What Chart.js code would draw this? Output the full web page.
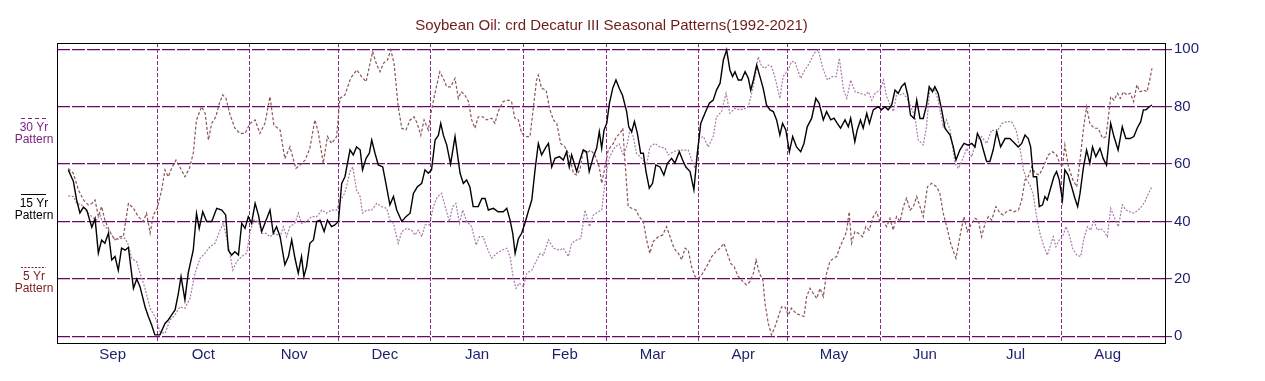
<!DOCTYPE html>
<html>
<head>
<meta charset="utf-8">
<title>Soybean Oil Seasonal Patterns</title>
<script src="https://cdn.jsdelivr.net/npm/chart.js"></script>
<style>
  html, body { margin: 0; padding: 0; background: #fff; }
  #wrap { width: 1265px; height: 381px; }
</style>
</head>
<body>
<div id="wrap"><canvas id="chart" width="1265" height="381"></canvas></div>
<script>
// x values are days since Sep 1 of the seasonal year
const monthNames = ["Sep", "Oct", "Nov", "Dec", "Jan", "Feb", "Mar", "Apr", "May", "Jun", "Jul", "Aug"];
const monthStarts = [30, 61, 91, 122, 153, 181, 212, 242, 273, 303, 334];
const monthMids = [15, 45.5, 76, 106.5, 137.5, 167, 196.5, 227, 257.5, 288, 318.5, 349.5];
const yTicks = [0, 20, 40, 60, 80, 100];

const pattern15 = [[0.1,58],[1.8,54],[2.9,47.5],[4.0,43],[5.2,45],[6.3,44],[8.0,38],[9.1,41],[10.2,29],[11.3,33.5],[12.4,32.4],[13.6,36],[14.7,26.6],[15.8,27.8],[16.9,23],[18.0,30.7],[19.2,30],[20.3,31],[22.0,16.7],[23.1,20],[24.2,17.3],[25.9,10.3],[27.0,6.9],[28.1,4],[29.2,0.5],[30.9,0.5],[32.6,4.5],[33.7,5.7],[34.8,7.4],[36.0,9.2],[37.1,15],[38.0,20.8],[39.3,12.7],[40.4,22],[42.1,30],[43.2,42.8],[44.1,37.6],[45.3,43.4],[46.6,40],[48.3,40],[50.0,44.6],[51.7,44],[53.0,42.3],[53.9,30],[55.0,28.3],[56.1,29.5],[57.3,28.3],[58.4,39.4],[59.5,37.6],[60.6,41.7],[61.7,39.4],[62.9,46.3],[64.0,42.3],[65.1,36.5],[66.2,39.4],[67.9,44],[69.0,35.9],[70.1,38.2],[71.3,34.7],[72.9,24.9],[74.1,27.8],[75.2,33.6],[76.3,27.2],[77.4,22],[78.5,27.8],[79.3,20.8],[80.2,24.3],[81.3,32.4],[82.5,33.6],[83.6,40],[84.7,40.5],[86.1,36.5],[87.2,40.5],[88.6,38.2],[89.7,38.8],[90.9,40],[92.0,53.3],[93.1,55.6],[94.8,65],[95.9,63.2],[97.0,66],[98.2,65],[99.0,58],[100.2,62],[101.3,63.8],[102.1,68.4],[103.2,63.8],[104.3,59.7],[105.8,59],[107.1,52],[108.2,45.8],[109.4,48.7],[110.5,44],[112.2,40],[113.6,41.7],[115.0,42.9],[116.1,49.8],[117.4,52],[118.9,53.3],[120.0,58],[121.1,56.8],[122.2,58],[123.4,68.4],[124.5,70],[125.3,74.2],[126.2,70],[127.3,66.7],[128.6,60],[130.1,69.6],[131.8,56.8],[132.9,53.3],[134.0,54.5],[135.1,52],[136.2,45.2],[137.9,45.2],[139.1,48],[140.2,48],[141.3,44],[143.0,44.6],[144.6,43.4],[146.3,43.4],[147.5,44.6],[148.6,40.5],[149.5,35.9],[150.3,28.9],[151.4,34],[152.5,35.9],[153.6,39.4],[154.7,43.4],[155.9,47.5],[157.0,58],[158.1,67.2],[159.2,63.2],[160.7,66],[161.5,67.2],[162.6,59],[163.7,62],[165.2,62.6],[166.5,61.4],[167.6,64.3],[168.5,59],[169.3,63.2],[171.0,57.4],[172.1,61.4],[173.2,65],[174.3,64.3],[175.2,57.4],[176.6,62.6],[177.7,65.5],[178.6,71.3],[179.4,65.5],[180.2,71.9],[181.1,74.2],[182.0,81.2],[183.1,86.4],[184.2,89.3],[185.3,86.4],[186.4,84],[187.8,78.3],[188.5,73],[189.5,71.3],[190.4,74.8],[191.4,70.7],[192.5,63.8],[193.4,63.8],[194.3,57.4],[195.4,51.6],[196.5,53.3],[197.6,59.7],[199.0,59],[200.3,56.2],[201.5,60.3],[202.9,62],[204.0,60.3],[205.5,64.3],[206.6,61.4],[207.7,59],[209.1,57.4],[210.4,51],[211.5,63.2],[212.7,74.2],[214.1,77.7],[215.6,81.2],[216.9,82.3],[218.0,85.8],[219.2,88.2],[220.3,96.3],[221.4,99.8],[222.5,92.8],[223.4,90.5],[224.2,92.2],[225.3,89.3],[226.4,89.3],[227.6,92.2],[228.7,89.9],[229.5,85.8],[230.4,89.3],[231.5,94.5],[232.6,90.5],[233.7,86.4],[234.8,80.6],[236.0,78.9],[237.1,78.3],[238.2,75.4],[239.3,70.1],[240.2,74.2],[241.3,71.9],[242.5,64.3],[243.6,69.6],[244.9,66],[246.3,64.3],[247.4,67.2],[248.5,73],[250.0,76],[251.4,82.9],[252.5,81.2],[253.9,75.4],[255.0,78.3],[256.4,75.4],[257.5,76],[258.6,74.2],[259.7,72.5],[261.2,75.4],[262.3,73],[263.1,76],[264.5,67.8],[265.3,71.9],[266.4,75.4],[267.3,72.5],[268.5,77.7],[269.4,74.2],[270.7,78.9],[272.4,80],[273.5,78.9],[274.6,80],[275.7,78.9],[276.9,80.6],[278.0,85.8],[279.1,84.7],[280.2,87],[281.3,88.2],[282.3,84],[283.2,77.1],[284.4,75.9],[285.3,82.3],[286.4,75.9],[287.5,75.9],[288.6,80.6],[289.5,87],[290.6,85.2],[291.4,87],[292.5,84.7],[293.7,78.9],[294.8,72.5],[296.5,70.1],[297.6,66],[298.5,61.4],[299.8,64.9],[301.2,67.2],[302.6,66.6],[303.8,67.2],[304.9,66],[305.7,70.7],[306.8,68.4],[307.7,64.9],[308.8,60.9],[309.9,60.9],[311.0,64.9],[312.2,71.3],[313.5,66],[315.0,68.9],[316.6,68.9],[318.3,67.2],[319.4,66],[320.6,67.2],[321.7,70.1],[322.8,68.9],[323.6,66],[324.5,55.6],[325.6,55.6],[326.5,45.2],[327.6,45.8],[328.4,48.7],[329.2,47.5],[330.3,51.6],[331.4,55.6],[332.3,57.4],[333.2,54.5],[334.3,47.5],[335.1,58],[336.2,56.2],[337.4,52],[338.5,48],[339.4,45.2],[340.2,49.8],[341.3,58.5],[342.4,64.9],[343.5,60.3],[344.4,66],[345.5,62.6],[346.9,65.5],[348.0,61.9],[349.1,59.7],[350.5,74.2],[351.6,69.6],[353.0,64.9],[354.4,73],[355.6,68.9],[357.0,68.9],[358.3,69.6],[359.4,72.5],[360.6,74.8],[361.5,78.9],[362.4,78.9],[363.5,80],[364.4,80.6]];

const pattern30 = [[0.1,48.9],[1.8,48.7],[2.9,46.3],[4.6,45.8],[6.3,43.4],[8.0,41.7],[9.6,40.5],[10.8,42.3],[11.9,38.8],[13.6,37],[14.7,35.3],[15.8,33.6],[17.5,34.1],[19.2,34.1],[20.3,31.8],[21.4,27.2],[23.1,26],[24.2,22],[25.9,16.7],[27.6,9.8],[29.2,6.9],[30.9,1.6],[32.6,1],[34.3,5.7],[36.0,7.4],[37.6,10.3],[39.3,9.8],[41.0,13.2],[42.7,22],[44.4,27.2],[46.1,29],[47.7,31.2],[49.4,32.4],[51.1,37],[52.2,39.4],[53.9,31.8],[55.4,23.1],[56.7,26],[58.4,27.8],[60.1,29],[61.2,36.5],[62.5,40.5],[64.0,40],[65.1,35.9],[66.6,35.9],[67.9,34.7],[69.6,35.9],[71.3,34.7],[72.4,38.2],[73.5,34.7],[74.6,38.2],[76.3,39.4],[77.4,42.9],[78.5,39.4],[80.2,40],[81.9,41.7],[83.6,41.7],[85.3,44],[86.9,42.9],[88.6,44],[90.3,44],[91.4,47],[93.1,50],[94.8,57.4],[95.7,59],[97.0,51],[98.2,48.7],[99.0,42.9],[100.4,44],[102.1,44],[103.8,46.3],[105.4,45.2],[107.1,44.6],[108.2,40.5],[109.4,39.4],[111.0,32.4],[112.2,36.5],[113.8,37.6],[115.5,37],[116.6,35.3],[117.8,37],[118.9,34.7],[120.0,38.8],[121.5,38.8],[122.8,45.2],[124.2,48.7],[125.6,49.8],[127.1,44],[128.2,40],[129.3,45.2],[130.4,46.3],[131.6,39.4],[132.7,44],[134.0,40],[135.7,38.2],[137.2,31.8],[138.3,34.7],[139.6,34.7],[140.7,31.2],[142.4,27.2],[144.1,28.9],[145.8,30],[147.5,30.7],[148.6,27.8],[149.7,20.2],[150.6,16.7],[151.7,18.5],[153.1,17.3],[154.2,22],[155.9,23.1],[157.0,25.4],[158.7,28.9],[159.8,28.3],[161.5,33.6],[163.2,30.7],[165.2,30],[166.5,30.7],[168.2,27.8],[169.3,32.4],[171.0,33.6],[172.4,34.1],[173.8,44],[175.3,38.2],[176.6,42.3],[178.3,43.4],[179.4,44],[180.5,53.3],[181.6,61.4],[182.8,64],[183.9,66],[185.3,67],[186.7,63],[188.0,67],[188.9,72],[190.0,69.6],[191.1,63.8],[193.4,61.4],[194.5,59.7],[195.6,66],[197.3,67.2],[199.0,66],[200.7,65.5],[201.8,63.2],[203.5,64.3],[205.2,64.9],[206.8,64.9],[208.5,64.9],[209.7,61.4],[210.8,58.5],[212.2,69],[213.6,69.6],[215.2,66],[216.9,69.6],[218.0,76.5],[219.7,78.3],[221.2,84.7],[222.5,77.7],[224.2,79.4],[225.9,78.9],[227.6,79.4],[228.7,80],[229.8,84.7],[231.0,90.5],[232.0,97.4],[233.2,94],[234.3,93.4],[235.4,94.5],[236.5,94],[237.6,90.5],[239.3,82.9],[240.4,90.5],[242.1,92.8],[243.2,95.7],[244.3,95.7],[246.3,89.9],[247.7,92.8],[249.2,95.1],[250.8,98.6],[252.2,99.8],[253.7,93.4],[255.3,89.3],[256.8,90.5],[258.2,90.5],[259.3,96.9],[260.7,85.8],[261.8,82.9],[263.1,89.3],[264.6,85.2],[266.3,84.7],[268.0,84.1],[269.1,85.2],[270.2,82.3],[271.3,84.7],[273.0,85.8],[274.1,89.3],[275.2,83.5],[276.4,80.6],[277.5,78.3],[278.6,84.7],[279.7,84.1],[280.8,84.7],[282.0,83],[283.1,80.6],[284.7,76.5],[285.8,68.4],[287.5,66.7],[288.6,73],[289.7,86.4],[291.4,85.8],[292.5,82.3],[294.2,73],[295.3,75.4],[296.5,71.9],[298.2,60.3],[299.3,58.5],[300.4,60.9],[302.1,65.5],[303.8,62.6],[305.4,68.4],[307.1,69.6],[308.8,67.2],[310.5,71.9],[312.2,71.3],[314.0,74.2],[315.5,74.8],[317.2,74.8],[318.7,71.9],[320.1,64.9],[321.2,58],[322.3,54.5],[323.4,52.7],[324.5,49.2],[325.6,41.7],[326.7,35.9],[328.1,31.2],[329.2,28.3],[330.3,31.8],[331.2,34.7],[332.1,31.2],[333.2,33.6],[334.3,34.7],[335.5,38.2],[336.6,35.3],[337.7,30.7],[339.1,28.3],[340.4,27.8],[341.5,34.1],[342.7,38.2],[343.8,37],[344.9,40.5],[346.0,37],[347.1,37.6],[348.3,36.5],[349.4,34.7],[350.5,44.6],[351.6,41.7],[353.1,38.2],[354.4,45.8],[355.6,44],[357.0,43.4],[358.3,42.9],[359.8,44],[360.9,45.2],[362.0,46.9],[363.2,49.8],[364.4,52.1]];

const pattern5 = [[0.1,58.5],[1.8,56.8],[3.5,51],[5.2,47.5],[6.8,45.8],[8.0,46.3],[9.1,47.5],[10.2,41.7],[11.3,45.2],[12.4,40.5],[13.6,37.6],[14.7,35.3],[15.8,33.6],[17.5,34.7],[18.6,34.7],[20.3,46.3],[22.0,44.6],[23.6,41.7],[25.3,40],[26.4,42.9],[27.6,35.9],[28.7,42.3],[30.0,44.6],[31.5,51],[32.6,58],[33.7,55.6],[34.8,58.5],[36.3,61.4],[37.6,59],[39.3,55.6],[40.8,58.5],[42.1,63.8],[43.2,75.4],[44.9,80],[46.1,77.7],[47.2,68.4],[48.3,74.2],[49.7,76.5],[50.9,81.2],[52.0,84.1],[53.1,82.9],[54.5,77.1],[56.1,72.5],[57.8,70.7],[59.5,70.7],[61.2,74.2],[62.9,75.4],[64.5,70.7],[66.2,74.2],[67.9,83.5],[69.2,73.6],[71.3,71.9],[72.9,61.9],[74.6,66],[76.6,58.5],[78.0,59.7],[79.7,61.4],[81.3,65.5],[83.0,75.4],[84.1,71.3],[85.8,60.3],[87.2,69.6],[88.6,67.2],[90.3,69.6],[91.4,82.9],[93.1,84.1],[94.8,89.3],[95.4,90.5],[97.1,92.8],[98.7,90.5],[100.2,88.7],[101.3,94],[102.4,99.2],[103.8,94.5],[104.9,92.2],[106.0,95.1],[107.4,96.3],[108.5,99.8],[109.6,95.1],[111.0,80],[112.2,72.5],[113.6,71.9],[115.0,75.4],[116.3,76.5],[117.4,74.2],[118.6,70],[119.7,75.4],[121.1,71.9],[122.2,78.9],[123.7,86.4],[125.0,92.2],[126.4,89.3],[127.3,86.9],[128.6,86.9],[130.1,89.9],[131.2,82.9],[132.2,85.2],[133.4,84.1],[134.6,81.8],[135.7,75.4],[136.8,72.5],[137.9,76.5],[139.4,76.5],[140.7,75.4],[142.4,76],[143.5,74.2],[144.6,78.3],[146.3,81.8],[148.0,82.3],[149.1,81.8],[150.2,76],[151.4,75.4],[152.5,70.7],[154.2,69.6],[155.3,69.6],[156.4,79.4],[157.5,89.3],[158.1,91],[159.2,86.4],[160.7,85.8],[162.0,78.9],[163.2,75.4],[164.3,74.2],[165.6,67.2],[167.0,66],[168.5,63.2],[169.9,56.8],[171.0,56.2],[172.1,58],[173.2,64.9],[174.3,63.8],[175.7,64.9],[177.1,63.2],[178.6,59],[179.4,53.3],[180.5,59],[181.6,64.9],[183.3,67.2],[184.4,69.6],[185.6,70.7],[186.5,72.5],[187.2,61.4],[188.3,45.2],[189.5,44.6],[190.9,44],[192.0,41.7],[193.4,40],[194.5,33.6],[195.6,28.9],[196.7,33],[198.4,34.7],[199.9,35.3],[201.2,38.2],[202.4,34.7],[203.7,30.7],[205.2,28.9],[206.3,26.6],[207.4,30.7],[208.5,30],[209.6,24.3],[210.8,20.8],[211.9,20.2],[213.0,21.4],[214.7,24.3],[216.4,27.8],[217.8,29.5],[219.2,30.7],[220.5,32.4],[221.6,28.9],[222.8,25.4],[223.9,24.3],[225.3,20.8],[226.4,19.6],[228.1,17.9],[229.2,19],[230.4,22],[231.3,26.6],[232.4,22],[233.6,19.6],[234.3,11.5],[235.4,4.5],[236.5,0.5],[237.7,3.4],[238.8,6.9],[239.9,10.3],[241.0,10.3],[242.1,7.4],[243.2,9.8],[244.7,8],[246.1,7.4],[247.4,6.9],[248.3,13.8],[249.4,16.7],[250.5,15],[251.7,13.2],[252.8,16.7],[253.9,13.8],[255.0,22],[256.1,26],[257.3,27.2],[258.4,27.8],[259.5,31.2],[260.6,33.6],[261.7,36.5],[262.6,43.4],[263.4,32.4],[264.5,36.5],[265.7,35.9],[267.1,34.7],[268.2,38.2],[269.3,37],[270.7,41.7],[271.8,43.4],[272.9,40],[274.0,40],[275.2,38.2],[276.3,41.1],[277.4,37],[278.5,41.7],[279.7,40],[280.8,45.2],[281.9,48.1],[283.1,44],[284.2,45.2],[285.3,48.7],[286.4,45.2],[287.5,41.7],[288.9,52.1],[290.3,53.3],[292.0,52.1],[293.1,49.8],[294.2,42.9],[295.4,38.2],[296.7,32.4],[297.9,28.9],[298.5,27.2],[299.9,35.3],[301.2,41.7],[302.3,36.5],[303.5,38.8],[304.9,41.1],[306.0,40.5],[307.1,34.7],[308.3,39.4],[309.4,41.7],[310.5,40.5],[311.9,45.2],[313.3,42.9],[314.4,42.3],[315.5,43.4],[316.7,44],[318.0,43.4],[319.5,44],[320.6,47.5],[321.7,54.5],[322.8,55.6],[324.0,59.1],[325.1,56.8],[326.5,56.2],[327.9,59.1],[329.5,63.2],[331.0,64.3],[332.3,63.2],[333.4,60.3],[334.3,59.1],[335.1,66.7],[336.3,59.1],[337.8,54.5],[339.1,52.1],[340.2,61.4],[341.3,71.9],[342.4,80],[343.5,74.2],[344.9,72.5],[346.3,72.5],[347.8,69],[348.9,69.6],[349.7,76],[350.5,83.5],[351.6,82.3],[352.8,84.7],[353.7,82.9],[354.8,85.2],[355.9,84.1],[357.1,84.7],[358.2,81.8],[359.3,87.6],[360.4,85.2],[361.6,85.8],[362.7,85.2],[363.6,89.3],[364.4,93.4]];

const toPoints = arr => arr.map(p => ({ x: p[0], y: p[1] }));

Chart.defaults.font.family = "'Liberation Sans', Arial, sans-serif";

// left-side legend and the black frame round the plot
const sidePlugin = {
    id: "sideLegend",
    afterDatasetsDraw(chart) {
        const { ctx, chartArea: a } = chart;
        ctx.save();
        ctx.strokeStyle = "#000";
        ctx.lineWidth = 1;
        ctx.setLineDash([]);
        ctx.strokeRect(Math.round(a.left) + 0.5, Math.round(a.top) + 0.5,
            Math.round(a.right - a.left) - 1, Math.round(a.bottom - a.top));
        ctx.restore();
    },
    afterDraw(chart) {
        const ctx = chart.ctx;
        const items = [
            { label: "30 Yr", color: "#7d237d", dash: [4, 3], y: 118 },
            { label: "15 Yr", color: "#000000", dash: [], y: 194 },
            { label: "5 Yr", color: "#7a1e1e", dash: [2, 1.5], y: 267 }
        ];
        ctx.save();
        ctx.font = "12px 'Liberation Sans', Arial, sans-serif";
        ctx.textAlign = "center";
        ctx.textBaseline = "alphabetic";
        items.forEach(it => {
            ctx.strokeStyle = it.color;
            ctx.lineWidth = 1;
            ctx.setLineDash(it.dash);
            ctx.beginPath();
            ctx.moveTo(21, it.y + 0.5);
            ctx.lineTo(46, it.y + 0.5);
            ctx.stroke();
            ctx.fillStyle = it.color;
            ctx.fillText(it.label, 34, it.y + 13);
            ctx.fillText("Pattern", 34, it.y + 25);
        });
        ctx.restore();
    }
};

new Chart(document.getElementById("chart"), {
    type: "line",
    data: {
        datasets: [{
            label: "15 Yr Pattern",
            data: toPoints(pattern15),
            borderColor: "#000000",
            borderWidth: 1.4,
            pointRadius: 0,
            tension: 0
        }, {
            label: "30 Yr Pattern",
            data: toPoints(pattern30),
            borderColor: "#a97ca9",
            borderWidth: 1.2,
            borderDash: [2, 1.5],
            pointRadius: 0,
            tension: 0
        }, {
            label: "5 Yr Pattern",
            data: toPoints(pattern5),
            borderColor: "#8c5454",
            borderWidth: 1.2,
            borderDash: [3, 2],
            pointRadius: 0,
            tension: 0
        }]
    },
    options: {
        responsive: false,
        animation: false,
        layout: { padding: { left: 57, right: 0, top: 0, bottom: 0 } },
        plugins: {
            legend: { display: false },
            tooltip: { enabled: false },
            title: {
                display: true,
                fullSize: false,
                text: "Soybean Oil: crd Decatur III Seasonal Patterns(1992-2021)",
                color: "#6e1c1c",
                font: { size: 15, weight: "normal" },
                padding: { top: 17, bottom: 8 }
            }
        },
        scales: {
            x: {
                type: "linear",
                min: -3.7,
                max: 369.1,
                afterBuildTicks: s => {
                    s.ticks = monthStarts.concat(monthMids).sort((a, b) => a - b).map(v => ({ value: v }));
                },
                afterFit: s => { s.height = 38; },
                grid: {
                    color: c => (c.tick && monthStarts.includes(c.tick.value)) ? "#8a2a8a" : "rgba(0,0,0,0)",
                    lineWidth: 1,
                    drawTicks: false
                },
                border: { display: false, dash: [4, 2] },
                ticks: {
                    autoSkip: false,
                    maxRotation: 0,
                    padding: 3,
                    color: "#1e1e6e",
                    font: { size: 15 },
                    callback: v => {
                        const i = monthMids.indexOf(v);
                        return i >= 0 ? monthNames[i] : "";
                    }
                }
            },
            y: {
                position: "right",
                min: -2.33,
                max: 102.2,
                afterBuildTicks: s => { s.ticks = yTicks.map(v => ({ value: v })); },
                afterFit: s => { s.width = 99; },
                grid: {
                    color: "#660a66",
                    lineWidth: 1.3,
                    tickLength: 6,
                    tickColor: "#4a0a4a",
                    tickWidth: 1
                },
                border: { display: false, dash: [13, 2] },
                ticks: {
                    padding: 2,
                    color: "#1e1e6e",
                    font: { size: 15 }
                }
            }
        }
    },
    plugins: [sidePlugin]
});
</script>
</body>
</html>
